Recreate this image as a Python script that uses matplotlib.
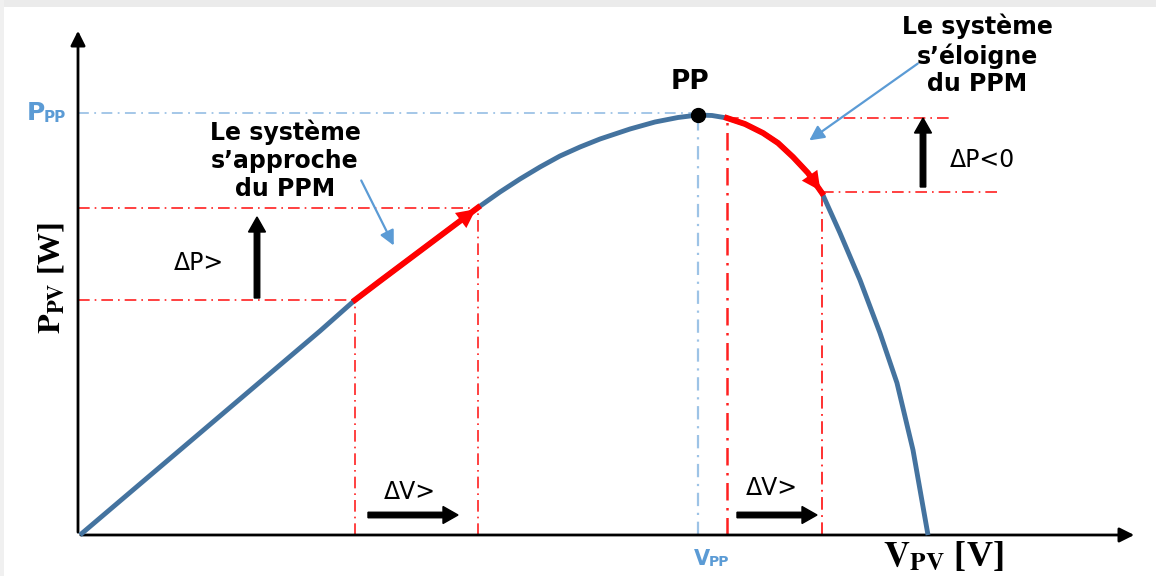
import numpy as np
import matplotlib.pyplot as plt
from matplotlib.patches import Rectangle

# P-V curve (V, P in px units, origin at the axes corner)
v_curve = [0, 60, 120, 180, 240, 275, 300, 320, 340, 360, 380, 398, 420, 440, 460, 480, 500, 520,
           550, 575, 598, 618, 632, 647, 665, 683, 698, 713, 728, 742, 760, 780, 800, 817, 833, 848]
p_curve = [0, 51, 102, 153, 204, 235, 254, 269, 284, 299, 314, 327.5, 343, 356, 368, 379, 388, 396,
           406, 413, 417.5, 420, 419.5, 417, 411, 402, 392, 378, 362, 342, 302, 255, 202, 152, 85, 0]

# operating points
v_mpp, p_mpp = 618, 420
v_left = [275, 398]
p_left = [235, 327.5]
v_right = [647, 742]
p_right = [417, 342]

curve_col = '#44739f'
ref_red = '#ff2020'
ref_blue = '#9dc3e6'
lbl_blue = '#5b9bd5'

fig = plt.figure(figsize=(11.56, 5.76), dpi=100)
ax = fig.add_axes([0, 0, 1, 1])
ax.set_xlim(-80, 1076)
ax.set_ylim(-41, 535)
ax.axis('off')

# light frame of the screenshot
ax.add_patch(Rectangle((-80, 528), 1156, 7, color='#ebebeb', lw=0, zorder=0))
ax.add_patch(Rectangle((-80, -41), 4, 576, color='#f0f0f0', lw=0, zorder=0))

# axes with arrows
ax.annotate('', xy=(-2, 507), xytext=(-2, 0),
            arrowprops=dict(arrowstyle='-|>', color='black', lw=2, mutation_scale=22))
ax.annotate('', xy=(1057, 0), xytext=(-2, 0),
            arrowprops=dict(arrowstyle='-|>', color='black', lw=2, mutation_scale=22))

# reference lines at the maximum power point
ax.plot([-2, v_mpp], [p_mpp + 2, p_mpp + 2], color=ref_blue, lw=1.3, ls=(0, (6, 3, 1, 3)))
ax.plot([v_mpp, v_mpp], [0, p_mpp], color=ref_blue, lw=1.6, ls=(0, (6, 3, 1, 3)))

# red dash-dot guides
dd = (0, (7, 3, 1, 3))
ax.plot([-2, v_left[0]], [p_left[0], p_left[0]], color=ref_red, lw=1.2, ls=dd)
ax.plot([-2, v_left[1]], [p_left[1], p_left[1]], color=ref_red, lw=1.2, ls=dd)
ax.plot([v_left[0], v_left[0]], [0, p_left[0]], color=ref_red, lw=1.2, ls=dd)
ax.plot([v_left[1], v_left[1]], [0, p_left[1]], color=ref_red, lw=1.2, ls=dd)
ax.plot([v_right[0], 870], [p_right[0], p_right[0]], color=ref_red, lw=1.2, ls=dd)
ax.plot([v_right[1], 918], [p_right[1] + 1, p_right[1] + 1], color=ref_red, lw=1.2, ls=dd)
ax.plot([v_right[0], v_right[0]], [0, p_right[0]], color=ref_red, lw=1.8, ls=dd)
ax.plot([v_right[1], v_right[1]], [0, p_right[1]], color=ref_red, lw=1.3, ls=dd)

# main curve
ax.plot(v_curve, p_curve, color=curve_col, lw=3.5, solid_capstyle='butt',
        solid_joinstyle='round', zorder=3)

# red moving segments
v_arr = np.array(v_curve)
p_arr = np.array(p_curve)
m1 = (v_arr >= v_left[0]) & (v_arr <= v_left[1])
ax.plot(v_arr[m1], p_arr[m1], color='red', lw=4.2, zorder=4)
ax.annotate('', xy=(v_left[1], p_left[1]), xytext=(v_arr[m1][-2], p_arr[m1][-2]),
            arrowprops=dict(arrowstyle='-|>', color='red', lw=0, mutation_scale=34), zorder=5)
m2 = (v_arr >= v_right[0]) & (v_arr <= v_right[1])
ax.plot(v_arr[m2], p_arr[m2], color='red', lw=4.2, solid_joinstyle='round', zorder=4)
ax.annotate('', xy=(v_right[1], p_right[1]), xytext=(v_arr[m2][-2], p_arr[m2][-2]),
            arrowprops=dict(arrowstyle='-|>', color='red', lw=0, mutation_scale=34), zorder=5)

ax.plot([v_mpp], [p_mpp], 'o', color='black', ms=10, zorder=6)

# black delta arrows
kw = dict(width=5.5, head_width=17, head_length=15, color='black', length_includes_head=True, zorder=6)
ax.arrow(177, 237, 0, 81, **kw)
ax.arrow(843, 348, 0, 69, **kw)
ax.arrow(288, 20, 90, 0, **kw)
ax.arrow(657, 20, 80, 0, **kw)

sans = 'DejaVu Sans'
ax.text(119, 272, 'ΔP>', fontsize=17, family=sans, ha='center', va='center')
ax.text(902, 375, 'ΔP<0', fontsize=17, family=sans, ha='center', va='center')
ax.text(330, 43, 'ΔV>', fontsize=17, family=sans, ha='center', va='center')
ax.text(692, 47, 'ΔV>', fontsize=17, family=sans, ha='center', va='center')

ax.text(610, 453, 'PP', fontsize=19, family=sans, weight='bold', ha='center', va='center')
ax.text(205, 375, 'Le système\ns’approche\ndu PPM', fontsize=17, family=sans, weight='bold',
        ha='center', va='center', linespacing=1.2)
ax.text(897, 480, 'Le système\ns’éloigne\ndu PPM', fontsize=17, family=sans, weight='bold',
        ha='center', va='center', linespacing=1.2)

# light blue pointer arrows
ax.annotate('', xy=(315, 287), xytext=(280, 357),
            arrowprops=dict(arrowstyle='-|>', color=lbl_blue, lw=1.6, mutation_scale=22))
ax.annotate('', xy=(727, 393), xytext=(840, 473),
            arrowprops=dict(arrowstyle='-|>', color=lbl_blue, lw=1.6, mutation_scale=22))

# P_PP and V_PP labels
ax.text(-35, 422, 'P', fontsize=18, family=sans, weight='bold', color=lbl_blue, ha='right', va='center')
ax.text(-36, 418, 'PP', fontsize=11, family=sans, weight='bold', color=lbl_blue, ha='left', va='center')
ax.text(630, -24, 'V', fontsize=15, family=sans, weight='bold', color=lbl_blue, ha='right', va='center')
ax.text(629, -27, 'PP', fontsize=10, family=sans, weight='bold', color=lbl_blue, ha='left', va='center')

# axis titles
plt.rcParams['mathtext.fontset'] = 'stix'
ax.text(-29, 257, r'$\mathbf{P}_{\mathbf{PV}}$ [W]', fontsize=23, family='Liberation Serif',
        weight='bold', rotation=90, ha='center', va='center')
ax.text(863, -22, r'$\mathbf{V}_{\mathbf{PV}}$ [V]', fontsize=26, family='Liberation Serif',
        weight='bold', ha='center', va='center')

fig.savefig('out.png', dpi=100)
